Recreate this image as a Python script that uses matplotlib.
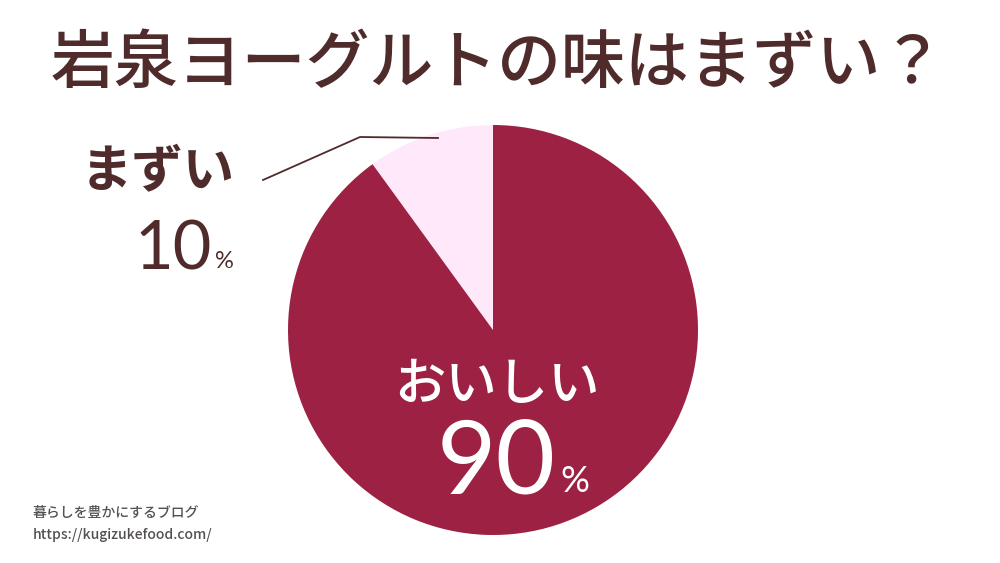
import matplotlib.pyplot as plt

plt.rcParams['font.family'] = ['Noto Sans CJK JP', 'DejaVu Sans']

title = '岩泉ヨーグルトの味はまずい？'
labels = ['まずい', 'おいしい']
values = [10, 90]
colors = ['#FFE8FA', '#9C2143']
brown = '#4F2B2B'

W, H = 1000, 563
fig = plt.figure(figsize=(10, 5.63), dpi=100)
ax = fig.add_axes([0, 0, 1, 1])


def Y(py):
    # pixel row (from top) -> data y
    return H - py


ax.pie(values, colors=colors, startangle=90, counterclock=True,
       center=(493, Y(330)), radius=205, frame=True,
       wedgeprops=dict(linewidth=0))
ax.set_xlim(0, W)
ax.set_ylim(0, H)
ax.axis('off')

ax.text(498, Y(64), title, ha='center', va='center', fontsize=46,
        color=brown, fontweight='medium')

# leader line for small slice
ax.plot([263, 360, 438], [Y(180), Y(137), Y(138)], color=brown, lw=1.3)

num_font = ['Lato', 'DejaVu Sans']

# まずい label
ax.text(158, Y(172), labels[0], ha='center', va='center', fontsize=37,
        fontweight='bold', color=brown)
ax.text(212, Y(250), str(values[0]), ha='right', va='center', fontsize=48,
        color=brown, family=num_font)
ax.text(215, Y(261), '%', ha='left', va='center', fontsize=17,
        color=brown, family=num_font)

# おいしい label
ax.text(497, Y(385), labels[1], ha='center', va='center', fontsize=37,
        fontweight='medium', color='white')
ax.text(556, Y(464), str(values[1]), ha='right', va='center', fontsize=74,
        color='white', family=num_font)
ax.text(560, Y(481), '%', ha='left', va='center', fontsize=26,
        color='white', family=num_font)

# watermark
ax.text(33, Y(513), '暮らしを豊かにするブログ', ha='left', va='center',
        fontsize=10, color='#555050', fontweight='medium')
ax.text(33, Y(535), 'https://kugizukefood.com/', ha='left', va='center',
        fontsize=10, color='#555050', fontweight='medium')

fig.savefig('out.png', dpi=100)
